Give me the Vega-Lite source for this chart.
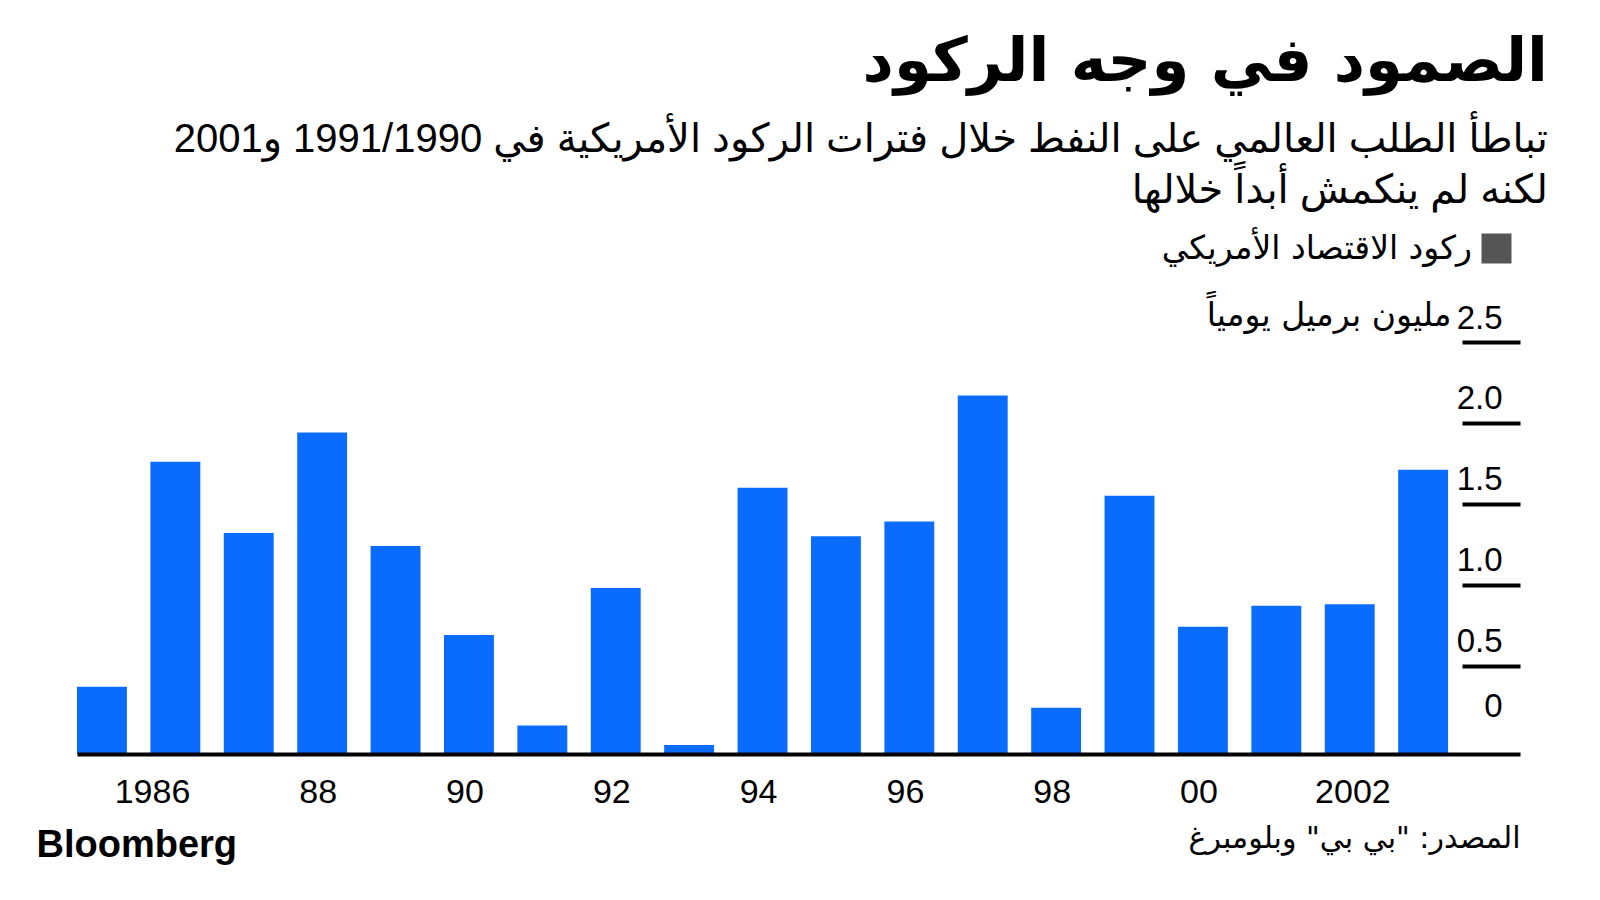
{
  "$schema": "https://vega.github.io/schema/vega-lite/v6.json",
  "width": 1443,
  "height": 412,
  "autosize": {"type": "none"},
  "padding": {"left": 77, "top": 342, "right": 80, "bottom": 146},
  "background": "white",
  "title": {
    "text": "الصمود في وجه الركود",
    "subtitle": ["تباطأ الطلب العالمي على النفط خلال فترات الركود الأمريكية في 1991/1990 و2001", "لكنه لم ينكمش أبداً خلالها"],
    "anchor": "end",
    "frame": "group",
    "align": "right",
    "dx": 28,
    "offset": 20,
    "font": "DejaVu Sans",
    "fontSize": 61,
    "fontWeight": "bold",
    "color": "black",
    "subtitleFont": "Liberation Sans, DejaVu Sans",
    "subtitleFontSize": 40,
    "subtitleColor": "black",
    "subtitleLineHeight": 51,
    "subtitlePadding": 26
  },
  "datasets": {
    "demand": [
      {"year": "1985", "value": 0.37},
      {"year": "1986", "value": 1.76},
      {"year": "1987", "value": 1.32},
      {"year": "1988", "value": 1.94},
      {"year": "1989", "value": 1.24},
      {"year": "1990", "value": 0.69},
      {"year": "1991", "value": 0.13},
      {"year": "1992", "value": 0.98},
      {"year": "1993", "value": 0.01},
      {"year": "1994", "value": 1.6},
      {"year": "1995", "value": 1.3},
      {"year": "1996", "value": 1.39},
      {"year": "1997", "value": 2.17},
      {"year": "1998", "value": 0.24},
      {"year": "1999", "value": 1.55},
      {"year": "2000", "value": 0.74},
      {"year": "2001", "value": 0.87},
      {"year": "2002", "value": 0.88},
      {"year": "2003", "value": 1.71}
    ],
    "recessions": [
      {"year": "1990"},
      {"year": "1991"},
      {"year": "2001"}
    ]
  },
  "layer": [
    {
      "data": {"name": "recessions"},
      "mark": {"type": "rect", "opacity": 0},
      "encoding": {
        "x": {"field": "year", "type": "ordinal"},
        "y": {"datum": 2.5, "type": "quantitative",
          "axis": {
            "orient": "left",
            "domain": false, "ticks": false, "labels": false, "grid": false,
            "title": "Bloomberg",
            "titleAngle": 0,
            "titleAlign": "left",
            "titleBaseline": "alphabetic",
            "titleX": -41,
            "titleY": 514,
            "titleFont": "Liberation Sans",
            "titleFontSize": 38,
            "titleFontWeight": "bold",
            "titleColor": "black"
          }
        },
        "y2": {"datum": -0.046},
        "color": {
          "datum": "ركود الاقتصاد الأمريكي",
          "scale": {"range": ["#555555"]},
          "legend": {
            "title": null,
            "orient": "none",
            "legendX": 1403,
            "legendY": -110,
            "padding": 0,
            "symbolType": "square",
            "symbolSize": 900,
            "symbolStrokeWidth": 0,
            "symbolOpacity": 1,
            "symbolFillColor": "#555555",
            "labelAlign": "right",
            "labelOffset": -41,
            "labelFont": "DejaVu Sans",
            "labelFontSize": 33,
            "labelColor": "black",
            "labelLimit": 600
          }
        }
      }
    },
    {
      "data": {"name": "demand"},
      "mark": {"type": "bar", "color": "#0a6cff"},
      "encoding": {
        "x": {
          "field": "year",
          "type": "ordinal",
          "scale": {"paddingInner": 0.32, "paddingOuter": 0.49, "align": 0},
          "axis": {
            "values": ["1986", "1988", "1990", "1992", "1994", "1996", "1998", "2000", "2002"],
            "labelExpr": "datum.value == '1986' || datum.value == '2002' ? datum.value : substring(datum.value, 2, 4)",
            "bandPosition": 0.5,
            "labelAngle": 0,
            "labelFont": "Liberation Sans",
            "labelFontSize": 34,
            "labelColor": "black",
            "labelBaseline": "alphabetic",
            "labelPadding": 48,
            "labelOffset": {"condition": {"test": "datum.value == '2002'", "value": 41}, "value": 15},
            "ticks": false,
            "tickSize": 0,
            "domain": true,
            "domainColor": "black",
            "domainWidth": 4,
            "grid": false,
            "title": "المصدر: \"بي بي\" وبلومبرغ",
            "titleAnchor": "end",
            "titleAlign": "right",
            "titleBaseline": "alphabetic",
            "titleX": 1443,
            "titleY": 93,
            "titleFont": "DejaVu Sans",
            "titleFontSize": 30,
            "titleFontWeight": "normal",
            "titleColor": "black"
          }
        },
        "y": {
          "field": "value",
          "type": "quantitative",
          "scale": {"domain": [-0.046, 2.5], "zero": false, "nice": false},
          "axis": {
            "orient": "right",
            "offset": -58,
            "values": [0, 0.5, 1, 1.5, 2, 2.5],
            "labelExpr": "datum.value == 0 ? '0' : format(datum.value, '.1f')",
            "domain": false,
            "grid": false,
            "tickSize": 58,
            "tickWidth": 4,
            "tickColor": "black",
            "tickOpacity": {"condition": {"test": "datum.value == 0", "value": 0}, "value": 1},
            "labelAlign": "right",
            "labelBaseline": "alphabetic",
            "labelPadding": -18,
            "labelOffset": {"condition": {"test": "datum.value == 0", "value": -30}, "value": -14},
            "labelFont": "Liberation Sans",
            "labelFontSize": 33,
            "labelColor": "black",
            "title": "مليون برميل يومياً",
            "titleAngle": 0,
            "titleAlign": "right",
            "titleBaseline": "alphabetic",
            "titleX": -11,
            "titleY": -17,
            "titleFont": "DejaVu Sans",
            "titleFontSize": 33,
            "titleFontWeight": "normal",
            "titleColor": "black"
          }
        },
        "y2": {"datum": -0.046}
      }
    }
  ],
  "resolve": {"axis": {"y": "independent"}},
  "config": {
    "view": {"stroke": null},
    "axis": {"labelFlush": false, "labelOverlap": false}
  }
}
